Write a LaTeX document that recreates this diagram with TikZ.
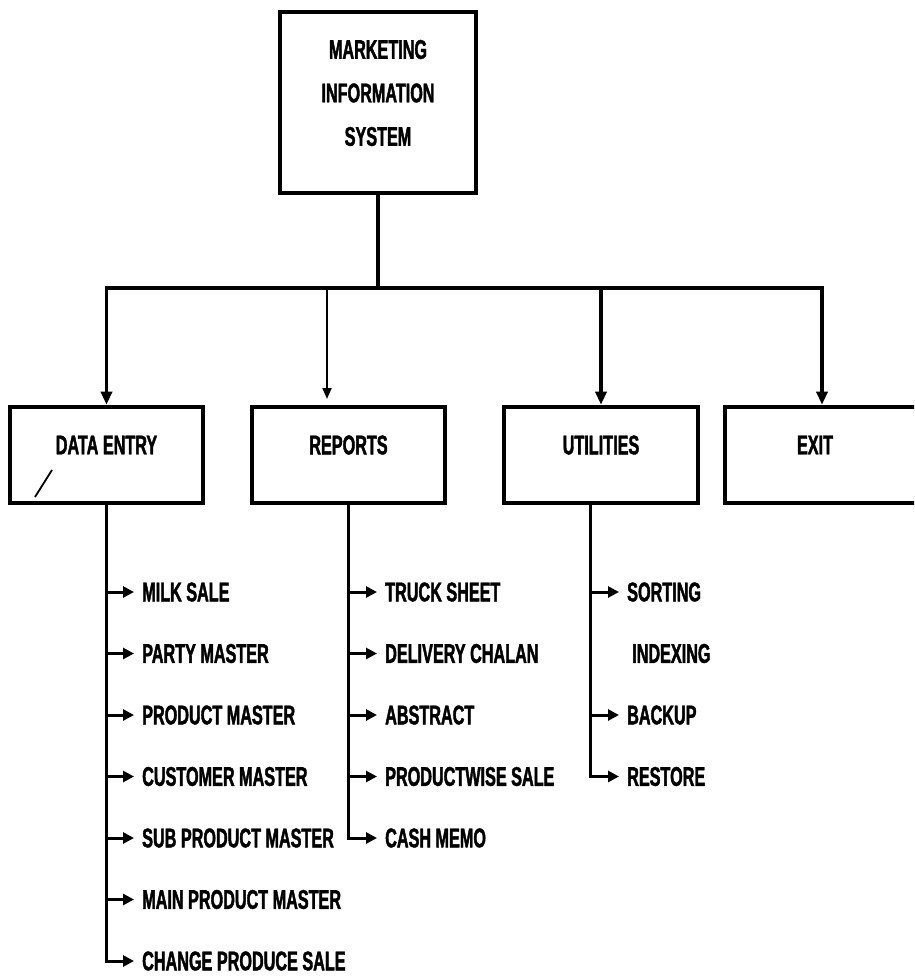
\documentclass[tikz,border=0pt]{standalone}
\usepackage{fontspec}
\newfontfamily\dotfont[FakeStretch=0.6,FakeBold=1.5]{Liberation Sans}
\usetikzlibrary{arrows.meta}
\begin{document}
\begin{tikzpicture}[x=1pt,y=-1pt,
  box/.style={draw,line width=4.6pt,inner sep=0pt},
  lab/.style={font=\dotfont\bfseries\fontsize{27}{43.5}\selectfont,inner sep=0pt},
  item/.style={lab,anchor=west},
  conn/.style={line width=3.2pt},
  arr/.style={conn,-{Triangle[length=13pt,width=11pt]}},
  sub/.style={line width=3pt},
  subarr/.style={sub,-{Triangle[length=11pt,width=11pt]},shorten >=8pt},
]
\clip (0,0) rectangle (914,977);
\fill[white] (0,0) rectangle (914,977);

% top box
\node[box,minimum width=196pt,minimum height=181pt] (top) at (378,102.5) {};
\node[lab,align=center] (toplab) at (378,93) {MARKETING\\INFORMATION\\SYSTEM};

% second level boxes
\node[box,minimum width=193pt,minimum height=96pt] (de) at (106.5,455) {};
\node[lab] (delab) at (106.5,445) {DATA ENTRY};
\node[box,minimum width=193pt,minimum height=96pt] (rp) at (348.5,455) {};
\node[lab] (rplab) at (348.5,445) {REPORTS};
\node[box,minimum width=194pt,minimum height=96pt] (ut) at (601,455) {};
\node[lab] (utlab) at (601,445) {UTILITIES};
\node[box,minimum width=194pt,minimum height=96pt] (ex) at (822,455) {};
\node[lab] (exlab) at (815,445) {EXIT};

% bus
\coordinate (busL) at (106.5,288);
\coordinate (busR) at (822,288);
\coordinate (rparrow) at (327,288);
\coordinate (rptip) at (327,399);
\draw[conn] (top.south) -- (top.south |- busL);
\draw[conn,line cap=rect] (busL) -- (busR);
\draw[arr] (busL) -- (de.north);
\draw[line width=2pt,-{Triangle[length=11pt,width=9pt]}] (rparrow) -- (rptip);
\draw[arr] (ut.north |- busL) -- (ut.north);
\draw[arr] (busR) -- (ex.north);

% stray mark
\coordinate (m1) at (35,497);
\coordinate (m2) at (52,470);
\draw[line width=1.8pt] (m1) -- (m2);

% data entry items
\node[item] (d1) at (142,592) {MILK SALE};
\node[item] (d2) at (142,653.5) {PARTY MASTER};
\node[item] (d3) at (142,715) {PRODUCT MASTER};
\node[item] (d4) at (142,776.5) {CUSTOMER MASTER};
\node[item] (d5) at (142,838) {SUB PRODUCT MASTER};
\node[item] (d6) at (142,899.5) {MAIN PRODUCT MASTER};
\node[item] (d7) at (142,961) {CHANGE PRODUCE SALE};
\draw[subarr] (de.south) |- (d7.west);
\foreach \i in {1,...,6}{\draw[subarr] (de.south |- d\i.west) -- (d\i.west);}

% reports items
\node[item] (r1) at (385,592) {TRUCK SHEET};
\node[item] (r2) at (385,653.5) {DELIVERY CHALAN};
\node[item] (r3) at (385,715) {ABSTRACT};
\node[item] (r4) at (385,776.5) {PRODUCTWISE SALE};
\node[item] (r5) at (385,838) {CASH MEMO};
\draw[subarr] (rp.south) |- (r5.west);
\foreach \i in {1,...,4}{\draw[subarr] (rp.south |- r\i.west) -- (r\i.west);}

% utilities items
\coordinate (utb) at (590,505);
\node[item] (u1) at (627,592) {SORTING};
\node[item] (u2) at (632,653.5) {INDEXING};
\node[item] (u3) at (627,715) {BACKUP};
\node[item] (u4) at (627,776.5) {RESTORE};
\draw[subarr] (utb) |- (u4.west);
\draw[subarr] (utb |- u1.west) -- (u1.west);
\draw[subarr] (utb |- u3.west) -- (u3.west);
\end{tikzpicture}
\end{document}
